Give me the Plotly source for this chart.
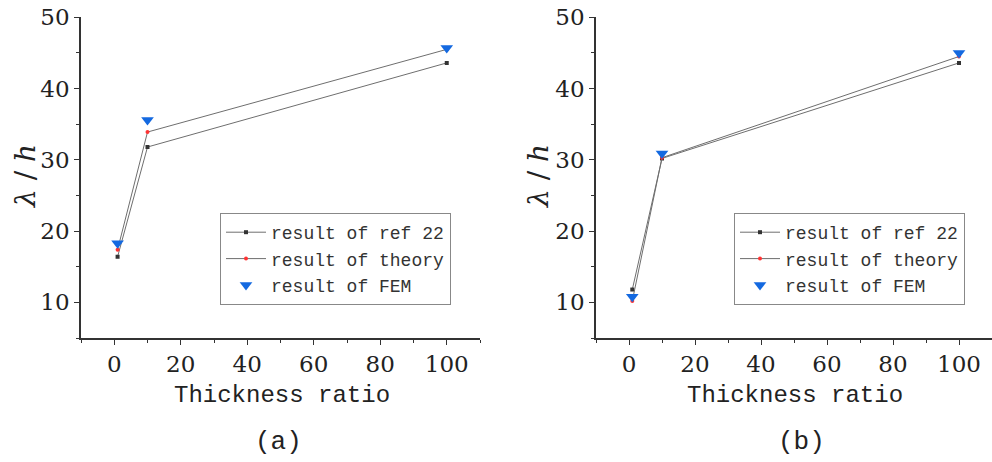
import plotly.graph_objects as go

# Thickness ratios and computed wavelength ratios (lambda / h)
thickness = [1, 10, 100]

a_ref22 = [16.4, 31.8, 43.6]
a_theory = [17.4, 33.9, 45.5]
a_fem = [18.3, 35.6, 45.7]

b_ref22 = [11.8, 30.2, 43.6]
b_theory = [10.2, 30.3, 44.5]
b_fem = [10.8, 30.9, 45.0]

series_names = ["result of ref 22", "result of theory", "result of FEM"]
panel_labels = ["(a)", "(b)"]
x_title = "Thickness ratio"
y_title = "<i>λ</i> / <i>h</i>"

LINE_COLOR = "#6e6e6e"
REF_COLOR = "#333333"
THEORY_COLOR = "#ff3333"
FEM_COLOR = "#1469e0"
AXIS_COLOR = "#333333"
SERIF = "DejaVu Serif"
MONO = "Liberation Mono"

W, H = 992, 462

fig = go.Figure()


def add_panel(xa, ya, legend, ref, theory, fem):
    fig.add_trace(go.Scatter(
        x=thickness, y=ref, name=series_names[0], mode="lines+markers",
        xaxis=xa, yaxis=ya, legend=legend,
        line=dict(color=LINE_COLOR, width=1),
        marker=dict(symbol="square", size=4, color=REF_COLOR)))
    fig.add_trace(go.Scatter(
        x=thickness, y=theory, name=series_names[1], mode="lines+markers",
        xaxis=xa, yaxis=ya, legend=legend,
        line=dict(color=LINE_COLOR, width=1),
        marker=dict(symbol="circle", size=4, color=THEORY_COLOR)))
    fig.add_trace(go.Scatter(
        x=thickness, y=fem, name=series_names[2], mode="markers",
        xaxis=xa, yaxis=ya, legend=legend,
        marker=dict(symbol="triangle-down", size=11, color=FEM_COLOR)))


add_panel("x", "y", "legend", a_ref22, a_theory, a_fem)
add_panel("x2", "y2", "legend2", b_ref22, b_theory, b_fem)

y_dom = [1 - 338 / H, 1 - 17.3 / H]
x_doms = [[81 / W, 480 / W], [596 / W, 1.0]]

axis_common = dict(
    showline=True, linecolor=AXIS_COLOR, linewidth=1.5,
    ticks="outside", ticklen=5, tickwidth=1.2, tickcolor=AXIS_COLOR,
    showgrid=False, zeroline=False, automargin=False,
    tickfont=dict(family=SERIF, size=23, color="#222222"),
)
x_axis = dict(axis_common, range=[-10, 110], tickmode="array",
              tickvals=[0, 20, 40, 60, 80, 100],
              minor=dict(ticks="outside", ticklen=3, tickcolor=AXIS_COLOR,
                         dtick=10, tick0=0, showgrid=False))
y_axis = dict(axis_common, range=[5, 50], tickmode="array",
              tickvals=[10, 20, 30, 40, 50],
              minor=dict(ticks="outside", ticklen=3, tickcolor=AXIS_COLOR,
                         dtick=5, tick0=0, showgrid=False))

legend_common = dict(
    bgcolor="white", bordercolor="#888888", borderwidth=1,
    font=dict(family=MONO, size=18, color="#333333"),
    xanchor="left", yanchor="top", tracegroupgap=0, itemwidth=40,
)

fig.update_layout(
    width=W, height=H,
    margin=dict(l=0, r=0, t=0, b=0, autoexpand=False),
    paper_bgcolor="white", plot_bgcolor="white",
    xaxis=dict(x_axis, domain=x_doms[0], anchor="y"),
    yaxis=dict(y_axis, domain=y_dom, anchor="x"),
    xaxis2=dict(x_axis, domain=x_doms[1], anchor="y2"),
    yaxis2=dict(y_axis, domain=y_dom, anchor="x2"),
    legend=dict(legend_common, x=220 / W, y=1 - 213 / H),
    legend2=dict(legend_common, x=734 / W, y=1 - 213 / H),
)

annotations = []
for i, (ycx, xcx, lcx) in enumerate([(25, 282, 278), (538, 795, 801)]):
    annotations.append(dict(
        x=ycx / W, y=1 - 176 / H, xref="paper", yref="paper",
        text=y_title, textangle=-90, showarrow=False,
        font=dict(family=SERIF, size=28, color="#222222"),
        xanchor="center", yanchor="middle"))
    annotations.append(dict(
        x=xcx / W, y=1 - 395 / H, xref="paper", yref="paper",
        text=x_title, showarrow=False,
        font=dict(family=MONO, size=24, color="#222222"),
        xanchor="center", yanchor="middle"))
    annotations.append(dict(
        x=lcx / W, y=1 - 442 / H, xref="paper", yref="paper",
        text=panel_labels[i], showarrow=False,
        font=dict(family=MONO, size=26, color="#222222"),
        xanchor="center", yanchor="middle"))
fig.update_layout(annotations=annotations)

fig.write_html("out.html")
